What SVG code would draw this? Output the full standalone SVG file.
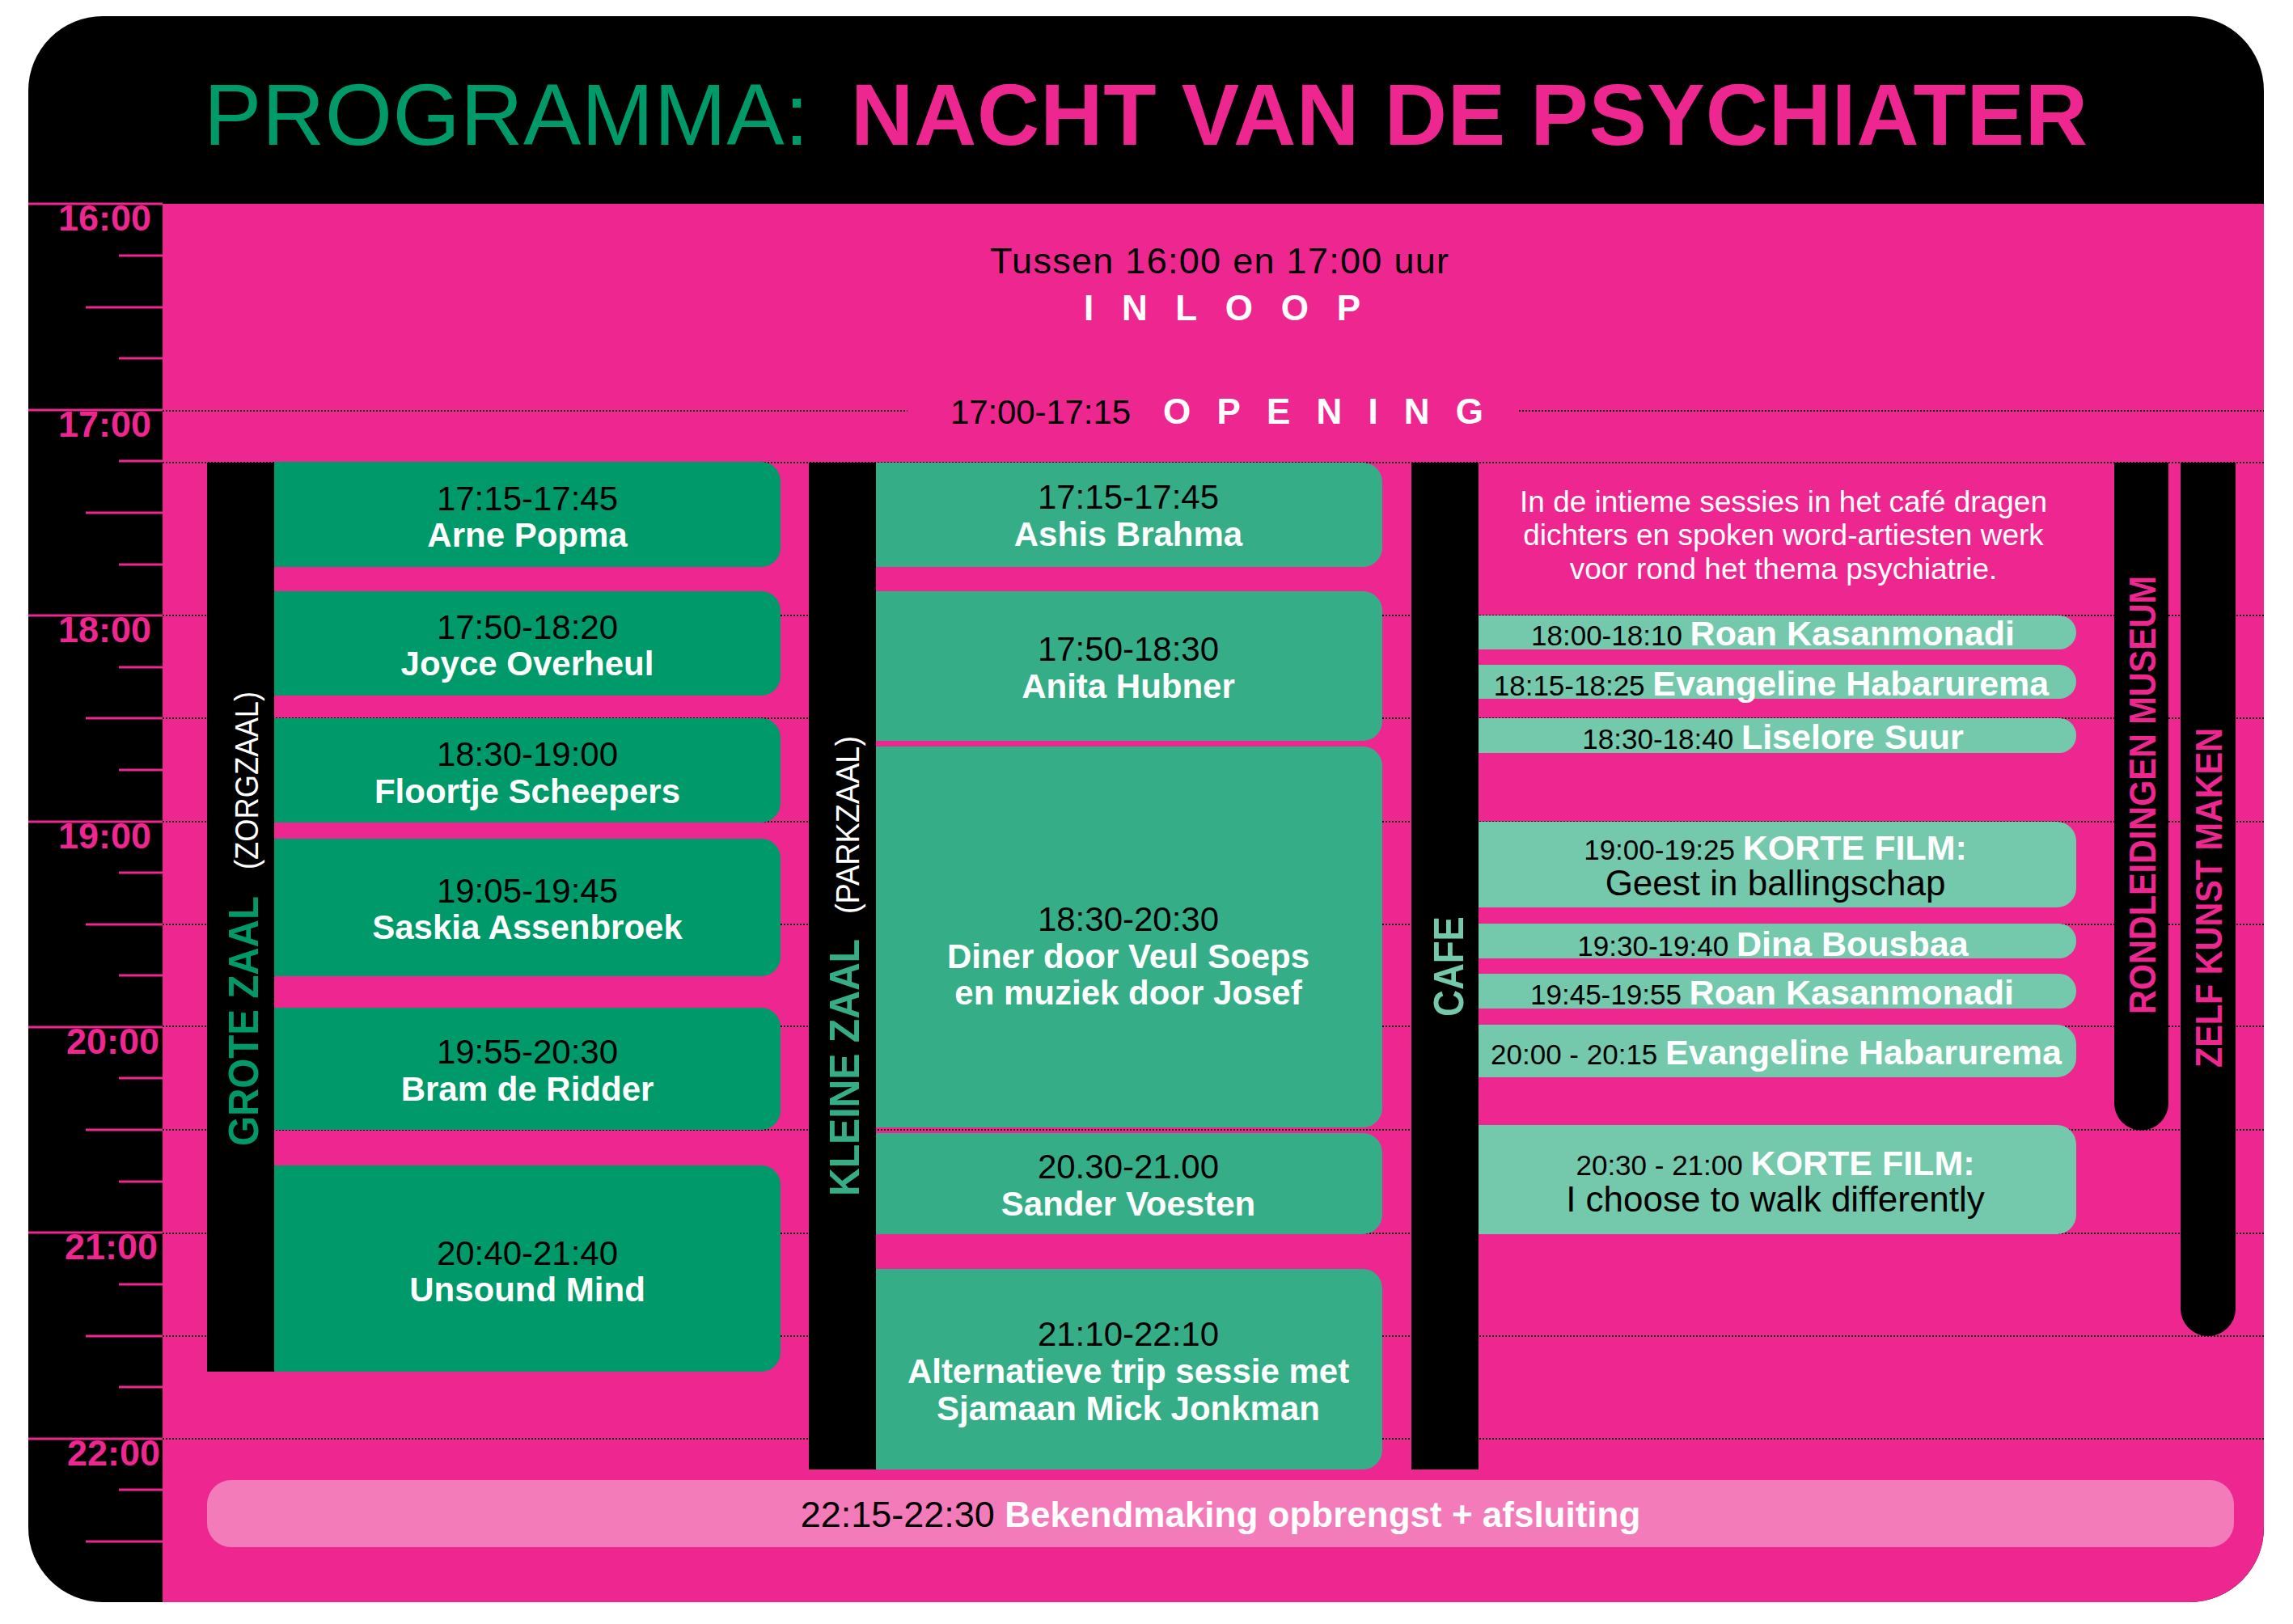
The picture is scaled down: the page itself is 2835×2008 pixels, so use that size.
<svg xmlns="http://www.w3.org/2000/svg" width="2835" height="2008" viewBox="0 0 2835 2008">
<style>
text{font-family:"Liberation Sans",Arial,sans-serif}
.t{font-size:42px;fill:#000}
.n{font-size:42px;font-weight:bold;fill:#fff}
.ct{font-size:35px;fill:#000}
.cn{font-size:43px;font-weight:bold;fill:#fff}
.cr{font-size:44px;fill:#000}
.hr{font-size:45px;font-weight:bold;fill:#ED2690}
.grid{stroke:#000;stroke-width:2;stroke-dasharray:2 2;fill:none}
.tick{stroke:#ED2690;stroke-width:3}
.g1{fill:#00996A}
.g2{fill:#35AE88}
.g3{fill:#74C8AC}
.bar{fill:#000}
.lab{font-size:52px;font-weight:bold}
.sub{font-size:40px;fill:#fff}
.vr{font-size:46px;font-weight:bold;fill:#ED2690}
</style>
<rect x="35" y="20" width="2764" height="1961" rx="92" fill="#000"/>
<path d="M201 252 H2799 V1889 A92 92 0 0 1 2707 1981 H201 Z" fill="#ED2690"/>

<g id="title">
<text x="252" y="179" font-size="107" fill="#00996A" textLength="748">PROGRAMMA:</text>
<text x="1052" y="179" font-size="107" font-weight="bold" fill="#ED2690" textLength="1529">NACHT VAN DE PSYCHIATER</text>
</g>

<g id="timeaxis">
<line class="tick" x1="35" y1="252" x2="201" y2="252"/>
<line class="tick" x1="147" y1="316" x2="201" y2="316"/>
<line class="tick" x1="106" y1="380" x2="201" y2="380"/>
<line class="tick" x1="147" y1="443" x2="201" y2="443"/>
<line class="tick" x1="35" y1="507" x2="201" y2="507"/>
<line class="tick" x1="147" y1="570" x2="201" y2="570"/>
<line class="tick" x1="106" y1="634" x2="201" y2="634"/>
<line class="tick" x1="147" y1="698" x2="201" y2="698"/>
<line class="tick" x1="35" y1="761" x2="201" y2="761"/>
<line class="tick" x1="147" y1="825" x2="201" y2="825"/>
<line class="tick" x1="106" y1="888" x2="201" y2="888"/>
<line class="tick" x1="147" y1="952" x2="201" y2="952"/>
<line class="tick" x1="35" y1="1016" x2="201" y2="1016"/>
<line class="tick" x1="147" y1="1079" x2="201" y2="1079"/>
<line class="tick" x1="106" y1="1143" x2="201" y2="1143"/>
<line class="tick" x1="147" y1="1206" x2="201" y2="1206"/>
<line class="tick" x1="35" y1="1270" x2="201" y2="1270"/>
<line class="tick" x1="147" y1="1333" x2="201" y2="1333"/>
<line class="tick" x1="106" y1="1397" x2="201" y2="1397"/>
<line class="tick" x1="147" y1="1461" x2="201" y2="1461"/>
<line class="tick" x1="35" y1="1524" x2="201" y2="1524"/>
<line class="tick" x1="147" y1="1588" x2="201" y2="1588"/>
<line class="tick" x1="106" y1="1652" x2="201" y2="1652"/>
<line class="tick" x1="147" y1="1715" x2="201" y2="1715"/>
<line class="tick" x1="35" y1="1779" x2="201" y2="1779"/>
<line class="tick" x1="147" y1="1842" x2="201" y2="1842"/>
<line class="tick" x1="106" y1="1906" x2="201" y2="1906"/>
<text class="hr" x="187" y="285" text-anchor="end">16:00</text>
<text class="hr" x="187" y="540" text-anchor="end">17:00</text>
<text class="hr" x="187" y="794" text-anchor="end">18:00</text>
<text class="hr" x="187" y="1049" text-anchor="end">19:00</text>
<text class="hr" x="197" y="1303" text-anchor="end">20:00</text>
<text class="hr" x="195" y="1557" text-anchor="end">21:00</text>
<text class="hr" x="198" y="1812" text-anchor="end">22:00</text>
</g>

<g id="connectors">
<line class="grid" x1="201" y1="508" x2="1122" y2="508"/>
<line class="grid" x1="1878" y1="508" x2="2799" y2="508"/>
<line class="grid" x1="201" y1="572" x2="2799" y2="572"/>
<line class="grid" x1="201" y1="761" x2="2799" y2="761"/>
<line class="grid" x1="201" y1="888" x2="2799" y2="888"/>
<line class="grid" x1="201" y1="1016" x2="2799" y2="1016"/>
<line class="grid" x1="201" y1="1143" x2="2799" y2="1143"/>
<line class="grid" x1="201" y1="1269" x2="2799" y2="1269"/>
<line class="grid" x1="201" y1="1397" x2="2799" y2="1397"/>
<line class="grid" x1="201" y1="1525" x2="2799" y2="1525"/>
<line class="grid" x1="201" y1="1652" x2="2799" y2="1652"/>
<line class="grid" x1="201" y1="1779" x2="2799" y2="1779"/>
</g>

<g id="inloop">
<text x="1224" y="338" font-size="45" fill="#000" textLength="567">Tussen 16:00 en 17:00 uur</text>
<text x="1340" y="396" font-size="44" font-weight="bold" fill="#fff" textLength="342">INLOOP</text>
</g>
<g id="opening">
<text x="1175" y="524" font-size="42" fill="#000" textLength="223">17:00-17:15</text>
<text x="1438" y="524" font-size="44" font-weight="bold" fill="#fff" textLength="396">OPENING</text>
</g>

<g id="grote-zaal">
<rect class="bar" x="256" y="572" width="83" height="1124"/>
<text class="lab" fill="#00996A" transform="translate(319,1417) rotate(-90)" textLength="309" lengthAdjust="spacingAndGlyphs">GROTE ZAAL</text>
<text class="sub" transform="translate(319,1075) rotate(-90)" textLength="220" lengthAdjust="spacingAndGlyphs">(ZORGZAAL)</text>
</g>
<g id="gz1"><path class="g1" d="M339 571 H941 A24 24 0 0 1 965 595 V677 A24 24 0 0 1 941 701 H339 Z"/>
<text class="t" x="652" y="631" text-anchor="middle">17:15-17:45</text><text class="n" x="652" y="676" text-anchor="middle">Arne Popma</text></g>
<g id="gz2"><path class="g1" d="M339 731 H941 A24 24 0 0 1 965 755 V836 A24 24 0 0 1 941 860 H339 Z"/>
<text class="t" x="652" y="790" text-anchor="middle">17:50-18:20</text><text class="n" x="652" y="835" text-anchor="middle">Joyce Overheul</text></g>
<g id="gz3"><path class="g1" d="M339 888 H941 A24 24 0 0 1 965 912 V993 A24 24 0 0 1 941 1017 H339 Z"/>
<text class="t" x="652" y="947" text-anchor="middle">18:30-19:00</text><text class="n" x="652" y="993" text-anchor="middle">Floortje Scheepers</text></g>
<g id="gz4"><path class="g1" d="M339 1037 H941 A24 24 0 0 1 965 1061 V1183 A24 24 0 0 1 941 1207 H339 Z"/>
<text class="t" x="652" y="1116" text-anchor="middle">19:05-19:45</text><text class="n" x="652" y="1161" text-anchor="middle">Saskia Assenbroek</text></g>
<g id="gz5"><path class="g1" d="M339 1246 H941 A24 24 0 0 1 965 1270 V1373 A24 24 0 0 1 941 1397 H339 Z"/>
<text class="t" x="652" y="1315" text-anchor="middle">19:55-20:30</text><text class="n" x="652" y="1361" text-anchor="middle">Bram de Ridder</text></g>
<g id="gz6"><path class="g1" d="M339 1441 H941 A24 24 0 0 1 965 1465 V1672 A24 24 0 0 1 941 1696 H339 Z"/>
<text class="t" x="652" y="1564" text-anchor="middle">20:40-21:40</text><text class="n" x="652" y="1609" text-anchor="middle">Unsound Mind</text></g>

<g id="kleine-zaal">
<rect class="bar" x="1000" y="572" width="83" height="1245"/>
<text class="lab" fill="#35AE88" transform="translate(1062,1479) rotate(-90)" textLength="318" lengthAdjust="spacingAndGlyphs">KLEINE ZAAL</text>
<text class="sub" transform="translate(1062,1130) rotate(-90)" textLength="220" lengthAdjust="spacingAndGlyphs">(PARKZAAL)</text>
</g>
<g id="kz1"><path class="g2" d="M1083 572 H1685 A24 24 0 0 1 1709 596 V677 A24 24 0 0 1 1685 701 H1083 Z"/>
<text class="t" x="1395" y="629" text-anchor="middle">17:15-17:45</text><text class="n" x="1395" y="675" text-anchor="middle">Ashis Brahma</text></g>
<g id="kz2"><path class="g2" d="M1083 731 H1685 A24 24 0 0 1 1709 755 V892 A24 24 0 0 1 1685 916 H1083 Z"/>
<text class="t" x="1395" y="817" text-anchor="middle">17:50-18:30</text><text class="n" x="1395" y="863" text-anchor="middle">Anita Hubner</text></g>
<g id="kz3"><path class="g2" d="M1083 923 H1685 A24 24 0 0 1 1709 947 V1370 A24 24 0 0 1 1685 1394 H1083 Z"/>
<text class="t" x="1395" y="1151" text-anchor="middle">18:30-20:30</text><text class="n" x="1395" y="1197" text-anchor="middle">Diner door Veul Soeps</text><text class="n" x="1395" y="1242" text-anchor="middle">en muziek door Josef</text></g>
<g id="kz4"><path class="g2" d="M1083 1401 H1685 A24 24 0 0 1 1709 1425 V1502 A24 24 0 0 1 1685 1526 H1083 Z"/>
<text class="t" x="1395" y="1457" text-anchor="middle">20.30-21.00</text><text class="n" x="1395" y="1503" text-anchor="middle">Sander Voesten</text></g>
<g id="kz5"><path class="g2" d="M1083 1569 H1685 A24 24 0 0 1 1709 1593 V1793 A24 24 0 0 1 1685 1817 H1083 Z"/>
<text class="t" x="1395" y="1664" text-anchor="middle">21:10-22:10</text><text class="n" x="1395" y="1710" text-anchor="middle">Alternatieve trip sessie met</text><text class="n" x="1395" y="1756" text-anchor="middle">Sjamaan Mick Jonkman</text></g>

<g id="cafe">
<rect class="bar" x="1745" y="572" width="83" height="1245"/>
<text class="lab" fill="#74C8AC" transform="translate(1809,1257) rotate(-90)" textLength="124" lengthAdjust="spacingAndGlyphs">CAFE</text>
<text x="2205" y="633" font-size="37" fill="#fff" text-anchor="middle">In de intieme sessies in het café dragen</text>
<text x="2205" y="674" font-size="37" fill="#fff" text-anchor="middle">dichters en spoken word-artiesten werk</text>
<text x="2205" y="716" font-size="37" fill="#fff" text-anchor="middle">voor rond het thema psychiatrie.</text>
</g>
<g id="c1"><path class="g3" d="M1828 761 H2546 A21 21 0 0 1 2567 782 A21 21 0 0 1 2546 803 H1828 Z"/>
<text x="2192" y="798" text-anchor="middle"><tspan class="ct">18:00-18:10 </tspan><tspan class="cn">Roan Kasanmonadi</tspan></text></g>
<g id="c2"><path class="g3" d="M1828 822 H2546 A21 21 0 0 1 2567 843 A21 21 0 0 1 2546 864 H1828 Z"/>
<text x="2190" y="860" text-anchor="middle"><tspan class="ct">18:15-18:25 </tspan><tspan class="cn">Evangeline Habarurema</tspan></text></g>
<g id="c3"><path class="g3" d="M1828 888 H2546 A21 21 0 0 1 2567 909 V910 A21 21 0 0 1 2546 931 H1828 Z"/>
<text x="2192" y="926" text-anchor="middle"><tspan class="ct">18:30-18:40 </tspan><tspan class="cn">Liselore Suur</tspan></text></g>
<g id="c4"><path class="g3" d="M1828 1016 H2543 A24 24 0 0 1 2567 1040 V1098 A24 24 0 0 1 2543 1122 H1828 Z"/>
<text x="2195" y="1063" text-anchor="middle"><tspan class="ct">19:00-19:25 </tspan><tspan class="cn">KORTE FILM:</tspan></text>
<text class="cr" x="2195" y="1107" text-anchor="middle">Geest in ballingschap</text></g>
<g id="c5"><path class="g3" d="M1828 1142 H2546 A21 21 0 0 1 2567 1163 V1164 A21 21 0 0 1 2546 1185 H1828 Z"/>
<text x="2192" y="1182" text-anchor="middle"><tspan class="ct">19:30-19:40 </tspan><tspan class="cn">Dina Bousbaa</tspan></text></g>
<g id="c6"><path class="g3" d="M1828 1204 H2546 A21 21 0 0 1 2567 1225 V1226 A21 21 0 0 1 2546 1247 H1828 Z"/>
<text x="2191" y="1242" text-anchor="middle"><tspan class="ct">19:45-19:55 </tspan><tspan class="cn">Roan Kasanmonadi</tspan></text></g>
<g id="c7"><path class="g3" d="M1828 1267 H2543 A24 24 0 0 1 2567 1291 V1308 A24 24 0 0 1 2543 1332 H1828 Z"/>
<text x="2196" y="1316" text-anchor="middle"><tspan class="ct">20:00 - 20:15 </tspan><tspan class="cn">Evangeline Habarurema</tspan></text></g>
<g id="c8"><path class="g3" d="M1828 1391 H2543 A24 24 0 0 1 2567 1415 V1502 A24 24 0 0 1 2543 1526 H1828 Z"/>
<text x="2195" y="1453" text-anchor="middle"><tspan class="ct">20:30 - 21:00 </tspan><tspan class="cn">KORTE FILM:</tspan></text>
<text class="cr" x="2195" y="1498" text-anchor="middle">I choose to walk differently</text></g>

<g id="rondleidingen">
<path class="bar" d="M2614 572 H2681 V1364 A33.5 33.5 0 0 1 2614 1364 Z"/>
<text class="vr" transform="translate(2665,1254) rotate(-90)" textLength="542" lengthAdjust="spacingAndGlyphs">RONDLEIDINGEN MUSEUM</text>
</g>
<g id="zelf-kunst">
<path class="bar" d="M2696 572 H2764 V1618 A34 34 0 0 1 2696 1618 Z"/>
<text class="vr" transform="translate(2747,1320) rotate(-90)" textLength="420" lengthAdjust="spacingAndGlyphs">ZELF KUNST MAKEN</text>
</g>

<g id="afsluiting">
<rect x="256" y="1830" width="2506" height="83" rx="30" fill="#F47BB9"/>
<text x="1509" y="1888" text-anchor="middle"><tspan font-size="45" fill="#000">22:15-22:30 </tspan><tspan font-size="44" font-weight="bold" fill="#fff">Bekendmaking opbrengst + afsluiting</tspan></text>
</g>
</svg>
